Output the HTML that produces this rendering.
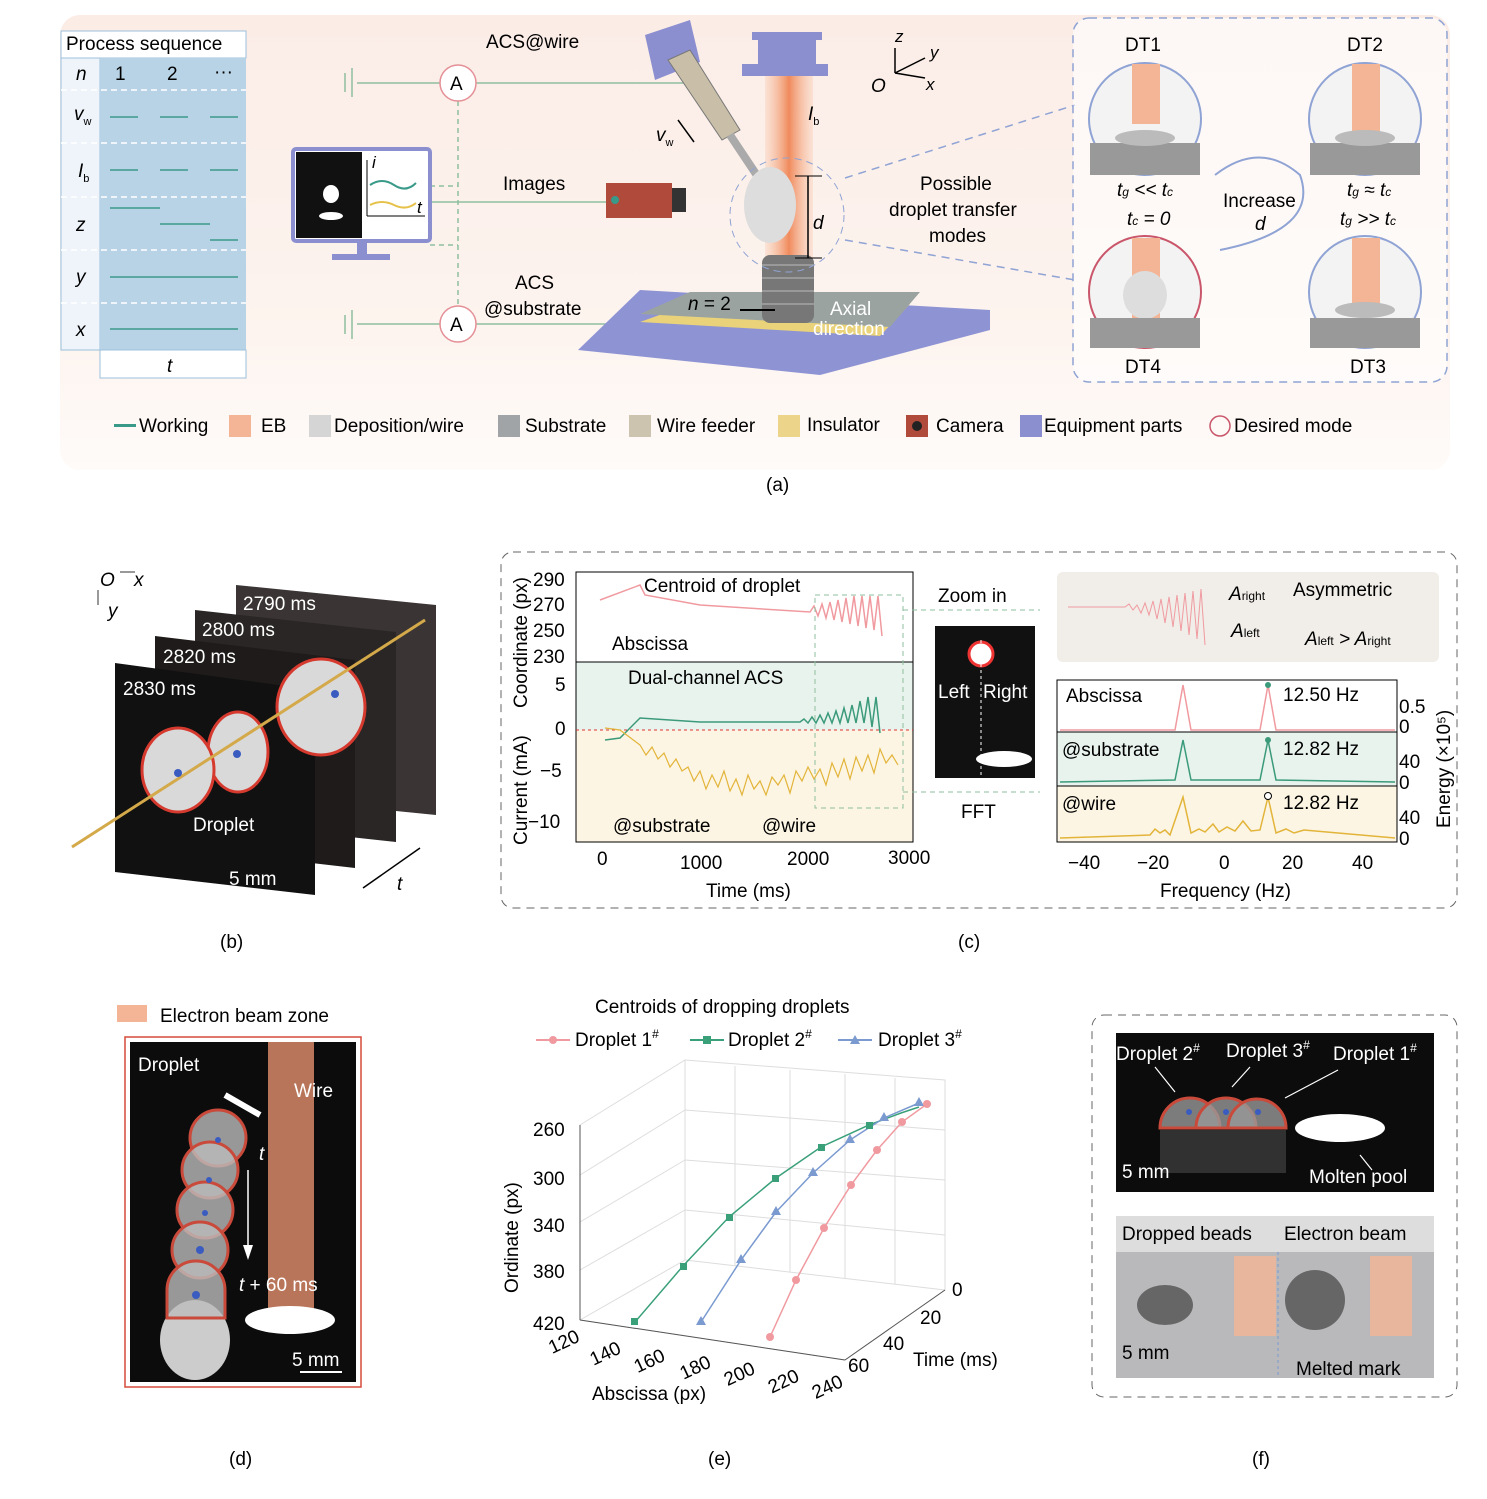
<!DOCTYPE html>
<html><head><meta charset="utf-8"><style>
html,body{margin:0;padding:0;background:#fff}
svg{display:block;font-family:"Liberation Sans",sans-serif}
</style></head><body>
<svg width="1487" height="1499" viewBox="0 0 1487 1499" xmlns="http://www.w3.org/2000/svg">
<defs>
<linearGradient id="bgA" x1="0" y1="0" x2="0" y2="1"><stop offset="0" stop-color="#fbece6"/><stop offset=".7" stop-color="#fdf4ef"/><stop offset="1" stop-color="#fefbf9"/></linearGradient>
<linearGradient id="beam" x1="0" y1="0" x2="1" y2="0"><stop offset="0" stop-color="#f7c4a6" stop-opacity=".3"/><stop offset=".5" stop-color="#f08a5c"/><stop offset="1" stop-color="#f7c4a6" stop-opacity=".3"/></linearGradient>
</defs>
<rect x="60" y="15" width="1390" height="455" rx="20" fill="url(#bgA)"/>
<rect x="61" y="31" width="185" height="27" fill="#fff" stroke="#9cc0dc"/>
<text x="66" y="50" font-size="19">Process sequence</text>
<rect x="61" y="58" width="39" height="292" fill="#eef4fa" stroke="#9cc0dc"/>
<rect x="100" y="58" width="146" height="292" fill="#b9d3e6"/>
<rect x="100" y="350" width="146" height="28" fill="#fff" stroke="#9cc0dc"/>
<g stroke="#fff" stroke-dasharray="6,4" stroke-width="1.5">
<line x1="61" y1="90" x2="246" y2="90"/><line x1="61" y1="143" x2="246" y2="143"/><line x1="61" y1="197" x2="246" y2="197"/><line x1="61" y1="250" x2="246" y2="250"/><line x1="61" y1="303" x2="246" y2="303"/></g>
<g font-size="19" font-style="italic"><text x="76" y="80">n</text><text x="74" y="120">v<tspan font-size="11" font-style="normal" dy="5">w</tspan></text><text x="78" y="177">I<tspan font-size="11" font-style="normal" dy="5">b</tspan></text><text x="76" y="231">z</text><text x="76" y="283">y</text><text x="76" y="336">x</text><text x="167" y="372">t</text></g>
<g font-size="19"><text x="115" y="80">1</text><text x="167" y="80">2</text><text x="214" y="78">···</text></g>
<g stroke="#3a9a8a" stroke-width="1.5">
<line x1="110" y1="117" x2="138" y2="117"/><line x1="160" y1="117" x2="188" y2="117"/><line x1="210" y1="117" x2="238" y2="117"/>
<line x1="110" y1="170" x2="138" y2="170"/><line x1="160" y1="170" x2="188" y2="170"/><line x1="210" y1="170" x2="238" y2="170"/>
<line x1="110" y1="208" x2="160" y2="208"/><line x1="160" y1="224" x2="210" y2="224"/><line x1="210" y1="240" x2="238" y2="240"/>
<line x1="110" y1="277" x2="238" y2="277"/><line x1="110" y1="329" x2="238" y2="329"/></g>
<g stroke="#8fbf9f" stroke-width="1.5" fill="none">
<line x1="345" y1="73" x2="345" y2="92"/><line x1="352" y1="68" x2="352" y2="97"/><line x1="357" y1="83" x2="440" y2="83"/><line x1="476" y1="83" x2="700" y2="83"/>
<line x1="345" y1="315" x2="345" y2="334"/><line x1="352" y1="310" x2="352" y2="339"/><line x1="357" y1="324" x2="440" y2="324"/><line x1="476" y1="324" x2="680" y2="324"/>
<line x1="458" y1="101" x2="458" y2="306" stroke-dasharray="5,4"/><line x1="430" y1="186" x2="458" y2="186" stroke-dasharray="5,4"/><line x1="430" y1="245" x2="458" y2="245" stroke-dasharray="5,4"/>
<line x1="430" y1="202" x2="615" y2="202"/></g>
<circle cx="458" cy="83" r="18" fill="#fff" stroke="#e58f96" stroke-width="1.5"/><text x="450" y="90" font-size="19">A</text>
<circle cx="458" cy="324" r="18" fill="#fff" stroke="#e58f96" stroke-width="1.5"/><text x="450" y="331" font-size="19">A</text>
<text x="486" y="48" font-size="19">ACS@wire</text>
<text x="503" y="190" font-size="19">Images</text>
<text x="515" y="289" font-size="19">ACS</text><text x="484" y="315" font-size="19">@substrate</text>
<rect x="293" y="149" width="137" height="92" rx="3" fill="#fff" stroke="#8b8fd0" stroke-width="4"/>
<rect x="296" y="152" width="66" height="86" fill="#111"/>
<ellipse cx="331" cy="194" rx="8" ry="9" fill="#fff"/><ellipse cx="331" cy="216" rx="12" ry="4" fill="#fff"/>
<rect x="357" y="241" width="10" height="14" fill="#8b8fd0"/><rect x="332" y="254" width="58" height="6" fill="#8b8fd0"/>
<path d="M370 185 q12 -8 24 0 t22 -2" stroke="#3a9a8a" stroke-width="2" fill="none"/>
<path d="M370 205 q12 -6 24 0 t22 -2" stroke="#e6c24a" stroke-width="2" fill="none"/>
<line x1="367" y1="160" x2="367" y2="216" stroke="#000"/><line x1="367" y1="216" x2="425" y2="216" stroke="#000"/>
<text x="372" y="168" font-size="17" font-style="italic">i</text><text x="417" y="213" font-size="17" font-style="italic">t</text>
<rect x="606" y="183" width="66" height="35" fill="#b04a3a"/><rect x="672" y="188" width="14" height="24" fill="#333"/><circle cx="615" cy="200" r="4" fill="#3a9a8a"/>
<polygon points="578,350 640,290 990,310 990,330 820,375" fill="#8e93d4"/>
<polygon points="640,322 690,304 910,304 880,336" fill="#e9d27a"/>
<polygon points="640,314 690,292 920,292 890,327" fill="#9aa3a0"/>
<rect x="765" y="70" width="48" height="215" fill="url(#beam)"/>
<rect x="752" y="32" width="70" height="8" fill="#8b8fd0"/><rect x="758" y="40" width="58" height="24" fill="#8b8fd0"/><rect x="742" y="64" width="86" height="12" fill="#8b8fd0"/>
<rect x="762" y="255" width="52" height="68" rx="8" fill="#777"/>
<g stroke="#bbb"><line x1="762" y1="265" x2="814" y2="265"/><line x1="762" y1="278" x2="814" y2="278"/><line x1="762" y1="291" x2="814" y2="291"/><line x1="762" y1="304" x2="814" y2="304"/></g>
<polygon points="645,35 690,20 700,62 655,80" fill="#8b8fd0"/>
<polygon points="668,60 690,50 740,130 722,140" fill="#c9bfa8" stroke="#777"/>
<line x1="730" y1="135" x2="760" y2="180" stroke="#aaa" stroke-width="8"/>
<ellipse cx="770" cy="205" rx="26" ry="38" fill="#ddd"/>
<circle cx="787" cy="215" r="57" fill="none" stroke="#8fa3d4" stroke-dasharray="7,5"/>
<line x1="808" y1="176" x2="808" y2="258" stroke="#000" stroke-width="1.5"/>
<line x1="795" y1="176" x2="822" y2="176" stroke="#000"/><line x1="795" y1="258" x2="822" y2="258" stroke="#000"/>
<text x="813" y="229" font-size="19" font-style="italic">d</text>
<text x="808" y="120" font-size="19" font-style="italic">I<tspan font-size="11" font-style="normal" dy="5">b</tspan></text>
<text x="656" y="141" font-size="19" font-style="italic">v<tspan font-size="11" font-style="normal" dy="5">w</tspan></text>
<line x1="678" y1="120" x2="694" y2="142" stroke="#000" stroke-width="1.5"/>
<text x="688" y="310" font-size="19"><tspan font-style="italic">n</tspan> = 2</text>
<line x1="740" y1="310" x2="775" y2="310" stroke="#000" stroke-width="2"/>
<text x="830" y="315" font-size="19" fill="#fff">Axial</text><text x="813" y="335" font-size="19" fill="#fff">direction</text>
<text x="871" y="92" font-size="19" font-style="italic">O</text><text x="895" y="42" font-size="17" font-style="italic">z</text><text x="930" y="58" font-size="17" font-style="italic">y</text><text x="926" y="90" font-size="17" font-style="italic">x</text>
<g stroke="#000" stroke-width="1.5"><line x1="895" y1="73" x2="895" y2="48"/><line x1="895" y1="73" x2="925" y2="58"/><line x1="895" y1="73" x2="925" y2="78"/></g>
<text x="920" y="190" font-size="19">Possible</text><text x="889" y="216" font-size="19">droplet transfer</text><text x="929" y="242" font-size="19">modes</text>
<g stroke="#8fa3d4" stroke-dasharray="8,6" stroke-width="1.5"><line x1="845" y1="178" x2="1075" y2="105"/><line x1="845" y1="240" x2="1075" y2="280"/></g>
<rect x="1073" y="18" width="374" height="364" rx="16" fill="#fff" fill-opacity=".6" stroke="#8fa3d4" stroke-dasharray="8,6" stroke-width="1.5"/>
<g font-size="19"><text x="1125" y="51">DT1</text><text x="1347" y="51">DT2</text><text x="1125" y="373">DT4</text><text x="1350" y="373">DT3</text>
<text x="1223" y="207">Increase</text><text x="1255" y="230" font-style="italic">d</text>
<text x="1117" y="196" font-style="italic">t<tspan font-size="12">g</tspan> &lt;&lt; t<tspan font-size="12">c</tspan></text>
<text x="1127" y="225" font-style="italic">t<tspan font-size="12">c</tspan> = 0</text>
<text x="1347" y="196" font-style="italic">t<tspan font-size="12">g</tspan> ≈ t<tspan font-size="12">c</tspan></text>
<text x="1340" y="225" font-style="italic">t<tspan font-size="12">g</tspan> &gt;&gt; t<tspan font-size="12">c</tspan></text></g>
<path d="M1215 175 Q1260 140 1300 175 Q1320 230 1220 250" fill="none" stroke="#8fa3d4" stroke-width="2"/>
<circle cx="1145" cy="119" r="56" fill="#f3f3f3" stroke="#8fa3d4" stroke-width="2"/><rect x="1132" y="64" width="28" height="60" fill="#f3b596"/><rect x="1090" y="143" width="110" height="32" fill="#999"/><ellipse cx="1145" cy="138" rx="30" ry="8" fill="#bbb"/>
<circle cx="1365" cy="119" r="56" fill="#f3f3f3" stroke="#8fa3d4" stroke-width="2"/><rect x="1352" y="64" width="28" height="70" fill="#f3b596"/><rect x="1310" y="143" width="110" height="32" fill="#999"/><ellipse cx="1365" cy="138" rx="30" ry="8" fill="#bbb"/>
<circle cx="1145" cy="292" r="56" fill="#f3f3f3" stroke="#c9566a" stroke-width="2"/><rect x="1132" y="238" width="28" height="80" fill="#f3b596"/><ellipse cx="1145" cy="295" rx="22" ry="24" fill="#ddd"/><rect x="1090" y="318" width="110" height="30" fill="#999"/>
<circle cx="1365" cy="292" r="56" fill="#f3f3f3" stroke="#8fa3d4" stroke-width="2"/><rect x="1352" y="238" width="28" height="70" fill="#f3b596"/><rect x="1310" y="318" width="110" height="30" fill="#999"/><ellipse cx="1365" cy="310" rx="30" ry="8" fill="#bbb"/>
<g font-size="19">
<rect x="114" y="424" width="22" height="3" fill="#3a9a8a"/><text x="139" y="432">Working</text>
<rect x="229" y="415" width="22" height="22" fill="#f3b596"/><text x="261" y="432">EB</text>
<rect x="309" y="415" width="22" height="22" fill="#d5d5d5"/><text x="334" y="432">Deposition/wire</text>
<rect x="498" y="415" width="22" height="22" fill="#a0a4a6"/><text x="525" y="432">Substrate</text>
<rect x="629" y="415" width="22" height="22" fill="#ccc4ae"/><text x="657" y="432">Wire feeder</text>
<rect x="778" y="415" width="22" height="22" fill="#ecd58a"/><text x="807" y="431">Insulator</text>
<rect x="906" y="415" width="22" height="22" fill="#b04a3a"/><circle cx="917" cy="426" r="5" fill="#222"/><text x="936" y="432">Camera</text>
<rect x="1020" y="415" width="22" height="22" fill="#8b8fd0"/><text x="1044" y="432">Equipment parts</text>
<circle cx="1220" cy="426" r="10" fill="none" stroke="#c9566a" stroke-width="1.5"/><text x="1234" y="432">Desired mode</text>
</g>
<text x="766" y="491" font-size="19">(a)</text>
<!-- b -->
<text x="100" y="586" font-size="19" font-style="italic">O</text><text x="134" y="586" font-size="19" font-style="italic">x</text><text x="108" y="617" font-size="19" font-style="italic">y</text>
<g stroke="#777" stroke-width="1.5"><line x1="98" y1="590" x2="98" y2="605"/><line x1="120" y1="572" x2="135" y2="572"/></g>
<polygon points="236,585 436,605 436,815 236,795" fill="#3a3534"/>
<polygon points="195,610 396,632 396,842 195,820" fill="#2a2625"/>
<polygon points="155,636 355,660 355,868 155,845" fill="#1e1b1a"/>
<polygon points="115,663 315,690 315,895 115,872" fill="#111"/>
<g font-size="19" fill="#fff"><text x="243" y="610">2790 ms</text><text x="202" y="636">2800 ms</text><text x="163" y="663">2820 ms</text><text x="123" y="695">2830 ms</text><text x="193" y="831">Droplet</text><text x="229" y="885">5 mm</text></g>
<g fill="#d9d9d9" stroke="#d63a2e" stroke-width="3">
<ellipse cx="321" cy="707" rx="44" ry="48"/><ellipse cx="238" cy="752" rx="30" ry="40"/><ellipse cx="178" cy="770" rx="36" ry="42"/></g>
<line x1="72" y1="847" x2="425" y2="620" stroke="#d4a94a" stroke-width="3"/>
<g fill="#3a5cc0"><circle cx="335" cy="694" r="4"/><circle cx="237" cy="754" r="4"/><circle cx="178" cy="773" r="4"/></g>
<line x1="420" y1="848" x2="363" y2="888" stroke="#000" stroke-width="1.5"/><text x="397" y="890" font-size="19" font-style="italic">t</text>
<text x="220" y="948" font-size="19">(b)</text>
<!-- c -->
<rect x="501" y="552" width="956" height="356" rx="12" fill="none" stroke="#666" stroke-dasharray="8,6"/>
<rect x="576" y="572" width="337" height="90" fill="#fff" stroke="#000"/>
<rect x="576" y="662" width="337" height="68" fill="#e8f3ee"/><rect x="576" y="730" width="337" height="112" fill="#fdf5e3"/>
<rect x="576" y="662" width="337" height="180" fill="none" stroke="#000"/>
<line x1="576" y1="730" x2="913" y2="730" stroke="#d33" stroke-dasharray="3,3"/>
<path d="M600 600 L640 585 L645 595 L700 605 L810 612 l4 -6 l4 10 l4 -12 l4 14 l4 -16 l4 18 l4 -20 l4 22 l4 -24 l4 26 l4 -28 l4 30 l4 -30 l4 32 l4 -32 l4 34 l4 -34 l4 40" stroke="#f09aa0" fill="none" stroke-width="1.5"/>
<path d="M605 740 L620 738 L640 718 L700 722 L800 722 l4 -3 l4 4 l4 -6 l4 6 l4 -8 l4 8 l4 -10 l4 10 l4 -12 l4 12 l4 -15 l4 15 l4 -18 l4 18 l4 -22 l4 22 l4 -26 l4 30 l4 -30 l4 36" stroke="#3a9a7a" fill="none" stroke-width="1.5"/>
<path d="M605 728 L620 730 L640 745 l6 10 l6 -8 l6 12 l6 -6 l6 14 l6 -8 l6 12 l6 -4 l6 14 l6 -10 l6 18 l6 -14 l6 12 l6 -16 l6 20 l6 -12 l6 16 l6 -20 l6 14 l6 -8 l6 14 l6 -18 l6 8 l6 -10 l6 18 l6 -22 l6 10 l6 -14 l6 12 l6 -10 l6 16 l6 -22 l6 14 l6 -18 l6 20 l6 -22 l6 14 l6 -16 l6 18 l6 -24 l6 14 l6 -8 l6 10" stroke="#e2b43a" fill="none" stroke-width="1.2"/>
<rect x="815" y="595" width="88" height="213" fill="none" stroke="#8fbf9f" stroke-dasharray="5,4"/>
<g stroke="#8fbf9f" stroke-dasharray="5,4" fill="none"><path d="M903 610 L1040 610"/><path d="M903 792 L1040 792"/></g>
<g font-size="19"><text x="533" y="586">290</text><text x="533" y="611">270</text><text x="533" y="637">250</text><text x="533" y="663">230</text>
<text x="555" y="691">5</text><text x="555" y="735">0</text><text x="540" y="777">−5</text><text x="528" y="828">−10</text>
<text x="597" y="865">0</text><text x="680" y="869">1000</text><text x="787" y="865">2000</text><text x="888" y="864">3000</text>
<text x="706" y="897">Time (ms)</text>
<text x="644" y="592">Centroid of droplet</text><text x="612" y="650">Abscissa</text><text x="628" y="684">Dual-channel ACS</text>
<text x="613" y="832">@substrate</text><text x="762" y="832">@wire</text>
<text x="938" y="602">Zoom in</text><text x="961" y="818">FFT</text>
<text x="527" y="845" transform="rotate(-90 527 845)">Current (mA)</text><text x="527" y="708" transform="rotate(-90 527 708)">Coordinate (px)</text>
</g>
<rect x="935" y="626" width="100" height="152" fill="#111"/>
<circle cx="981" cy="654" r="12" fill="#fff" stroke="#e33" stroke-width="3"/><ellipse cx="1004" cy="759" rx="28" ry="8" fill="#fff"/>
<line x1="981" y1="640" x2="981" y2="775" stroke="#fff" stroke-dasharray="3,3"/>
<text x="938" y="698" font-size="19" fill="#fff">Left</text><text x="983" y="698" font-size="19" fill="#fff">Right</text>
<rect x="1057" y="572" width="382" height="90" rx="6" fill="#f1ede8"/>
<path d="M1068 607 L1125 607 l4 -3 l4 6 l4 -5 l4 8 l4 -10 l4 12 l4 -14 l4 18 l4 -20 l4 24 l4 -26 l4 30 l4 -32 l4 36 l4 -38 l4 42 l4 -44 l4 48 l4 -50 l4 56" stroke="#f09aa0" fill="none"/>
<g font-size="19"><text x="1229" y="600" font-style="italic">A<tspan font-size="12" font-style="normal">right</tspan></text><text x="1231" y="637" font-style="italic">A<tspan font-size="12" font-style="normal">left</tspan></text>
<text x="1293" y="596">Asymmetric</text><text x="1305" y="645" font-style="italic">A<tspan font-size="12" font-style="normal">left</tspan> &gt; A<tspan font-size="12" font-style="normal">right</tspan></text></g>
<rect x="1057" y="680" width="340" height="52" fill="#fff" stroke="#000"/>
<rect x="1057" y="732" width="340" height="54" fill="#e8f3ee" stroke="#000"/>
<rect x="1057" y="786" width="340" height="56" fill="#fdf5e3" stroke="#000"/>
<g fill="none" stroke-width="1.5"><path d="M1060 730 L1175 730 L1183 685 L1191 730 L1260 730 L1268 685 L1276 730 L1395 730" stroke="#f09aa0"/>
<path d="M1060 782 L1175 780 L1183 740 L1191 780 L1260 780 L1268 740 L1276 780 L1395 782" stroke="#3a9a7a"/>
<path d="M1060 838 L1150 835 l5 -6 l5 4 l5 -3 l5 5 L1183 797 L1191 833 l8 -4 l6 3 l8 -8 l6 8 l8 -5 l8 4 l8 -10 l8 10 L1260 830 L1268 797 L1276 833 l10 -4 l8 4 l10 -3 L1395 838" stroke="#e2b43a"/></g>
<circle cx="1268" cy="685" r="3" fill="#3a9a7a"/><circle cx="1268" cy="740" r="3" fill="#3a9a7a"/><circle cx="1268" cy="796" r="3.5" fill="#fff" stroke="#000"/>
<g font-size="19"><text x="1066" y="702">Abscissa</text><text x="1283" y="701">12.50 Hz</text><text x="1062" y="756">@substrate</text><text x="1283" y="755">12.82 Hz</text>
<text x="1062" y="810">@wire</text><text x="1283" y="809">12.82 Hz</text>
<text x="1399" y="713">0.5</text><text x="1399" y="733">0</text><text x="1399" y="768">40</text><text x="1399" y="789">0</text><text x="1399" y="824">40</text><text x="1399" y="845">0</text>
<text x="1068" y="869">−40</text><text x="1137" y="869">−20</text><text x="1219" y="869">0</text><text x="1282" y="869">20</text><text x="1352" y="869">40</text>
<text x="1160" y="897">Frequency (Hz)</text>
<text x="1450" y="828" transform="rotate(-90 1450 828)">Energy (×10⁵)</text></g>
<text x="958" y="948" font-size="19">(c)</text>
<!-- d -->
<rect x="117" y="1005" width="30" height="17" fill="#f3b596"/><text x="160" y="1022" font-size="19">Electron beam zone</text>
<rect x="125" y="1037" width="236" height="350" fill="#fff" stroke="#d64a3a" stroke-width="1.5"/>
<rect x="130" y="1042" width="226" height="340" fill="#0c0c0c"/>
<rect x="268" y="1042" width="46" height="280" fill="#b8755a"/>
<ellipse cx="290" cy="1320" rx="45" ry="14" fill="#fff"/>
<ellipse cx="195" cy="1340" rx="35" ry="40" fill="#ccc"/>
<g fill="#bbb" fill-opacity=".8" stroke="#c94a3a" stroke-width="3">
<circle cx="218" cy="1138" r="28"/><circle cx="210" cy="1170" r="28"/><circle cx="205" cy="1210" r="28"/><circle cx="200" cy="1250" r="28"/><path d="M167 1318 L167 1290 A29 29 0 0 1 225 1290 L225 1318 Z"/></g>
<g fill="#3a5cc0"><circle cx="218" cy="1140" r="3"/><circle cx="209" cy="1180" r="3"/><circle cx="205" cy="1213" r="3"/><circle cx="200" cy="1250" r="4"/><circle cx="196" cy="1295" r="4"/></g>
<line x1="225" y1="1095" x2="260" y2="1115" stroke="#fff" stroke-width="6"/>
<g font-size="19" fill="#fff"><text x="138" y="1071">Droplet</text><text x="294" y="1097">Wire</text><text x="259" y="1160" font-style="italic">t</text><text x="239" y="1291"><tspan font-style="italic">t</tspan> + 60 ms</text><text x="292" y="1366">5 mm</text></g>
<line x1="248" y1="1170" x2="248" y2="1255" stroke="#fff" stroke-width="1.5"/><polygon points="243,1245 253,1245 248,1260" fill="#fff"/>
<line x1="300" y1="1372" x2="342" y2="1372" stroke="#fff" stroke-width="2"/>
<text x="229" y="1465" font-size="19">(d)</text>
<!-- e -->
<text x="595" y="1013" font-size="19">Centroids of dropping droplets</text>
<g font-size="19"><line x1="536" y1="1040" x2="570" y2="1040" stroke="#f09aa0" stroke-width="2"/><circle cx="553" cy="1040" r="4" fill="#f09aa0"/><text x="575" y="1046">Droplet 1<tspan font-size="12" dy="-8">#</tspan></text>
<line x1="690" y1="1040" x2="724" y2="1040" stroke="#3aa07a" stroke-width="2"/><rect x="703" y="1036" width="8" height="8" fill="#3aa07a"/><text x="728" y="1046">Droplet 2<tspan font-size="12" dy="-8">#</tspan></text>
<line x1="838" y1="1040" x2="872" y2="1040" stroke="#7a9ad0" stroke-width="2"/><polygon points="855,1035 860,1044 850,1044" fill="#7a9ad0"/><text x="878" y="1046">Droplet 3<tspan font-size="12" dy="-8">#</tspan></text></g>
<g stroke="#ddd" fill="none">
<polygon points="580,1125 685,1060 945,1080 945,1290 845,1360 580,1320"/>
<line x1="685" y1="1060" x2="685" y2="1260"/><line x1="580" y1="1320" x2="685" y2="1260"/><line x1="685" y1="1260" x2="945" y2="1290"/>
<line x1="580" y1="1175" x2="685" y2="1110"/><line x1="580" y1="1222" x2="685" y2="1160"/><line x1="580" y1="1270" x2="685" y2="1210"/>
<line x1="685" y1="1110" x2="945" y2="1130"/><line x1="685" y1="1160" x2="945" y2="1180"/><line x1="685" y1="1210" x2="945" y2="1235"/>
<line x1="735" y1="1066" x2="735" y2="1266"/><line x1="790" y1="1070" x2="790" y2="1272"/><line x1="845" y1="1074" x2="845" y2="1278"/><line x1="895" y1="1078" x2="895" y2="1284"/>
</g>
<g stroke="#555"><line x1="580" y1="1320" x2="845" y2="1360"/><line x1="845" y1="1360" x2="945" y2="1290"/><line x1="580" y1="1125" x2="580" y2="1320"/></g>
<polyline points="635,1322 683,1266 729,1217 776,1178 821,1147 869,1125 901,1113 919,1107" fill="none" stroke="#3aa07a" stroke-width="1.5"/>
<polyline points="701,1322 741,1260 776,1212 813,1173 850,1140 884,1118 919,1103" fill="none" stroke="#7a9ad0" stroke-width="1.5"/>
<polyline points="770,1337 796,1280 824,1228 851,1185 877,1150 902,1122 927,1104" fill="none" stroke="#f09aa0" stroke-width="1.5"/>
<g fill="#3aa07a"><rect x="631" y="1318" width="7" height="7"/><rect x="680" y="1263" width="7" height="7"/><rect x="726" y="1214" width="7" height="7"/><rect x="772" y="1175" width="7" height="7"/><rect x="818" y="1144" width="7" height="7"/><rect x="866" y="1122" width="7" height="7"/></g>
<g fill="#7a9ad0"><polygon points="701,1316 706,1325 696,1325"/><polygon points="741,1254 746,1263 736,1263"/><polygon points="776,1206 781,1215 771,1215"/><polygon points="813,1167 818,1176 808,1176"/><polygon points="850,1134 855,1143 845,1143"/><polygon points="884,1112 889,1121 879,1121"/><polygon points="919,1097 924,1106 914,1106"/></g>
<g fill="#f09aa0"><circle cx="770" cy="1337" r="4"/><circle cx="796" cy="1280" r="4"/><circle cx="824" cy="1228" r="4"/><circle cx="851" cy="1185" r="4"/><circle cx="877" cy="1150" r="4"/><circle cx="902" cy="1122" r="4"/><circle cx="927" cy="1104" r="4"/></g>
<g font-size="19"><text x="533" y="1136">260</text><text x="533" y="1185">300</text><text x="533" y="1232">340</text><text x="533" y="1278">380</text><text x="533" y="1330">420</text>
<text x="549" y="1350" transform="rotate(-25 560 1345)">120</text><text x="590" y="1360" transform="rotate(-25 605 1355)">140</text><text x="634" y="1367" transform="rotate(-25 650 1362)">160</text><text x="680" y="1374" transform="rotate(-25 695 1369)">180</text><text x="724" y="1380" transform="rotate(-25 740 1375)">200</text><text x="768" y="1387" transform="rotate(-25 785 1382)">220</text><text x="812" y="1393" transform="rotate(-25 828 1388)">240</text>
<text x="952" y="1296">0</text><text x="920" y="1324">20</text><text x="883" y="1350">40</text><text x="848" y="1372">60</text>
<text x="913" y="1366">Time (ms)</text><text x="592" y="1400">Abscissa (px)</text>
<text x="518" y="1293" transform="rotate(-90 518 1293)">Ordinate (px)</text></g>
<text x="708" y="1465" font-size="19">(e)</text>
<!-- f -->
<rect x="1092" y="1015" width="365" height="382" rx="12" fill="none" stroke="#666" stroke-dasharray="8,6"/>
<rect x="1116" y="1033" width="318" height="159" fill="#0c0c0c"/>
<ellipse cx="1340" cy="1128" rx="45" ry="14" fill="#fff"/>
<g fill="#999" fill-opacity=".8" stroke="#c94a3a" stroke-width="3"><path d="M1160 1128 A30 30 0 0 1 1220 1128 Z"/><path d="M1196 1128 A30 30 0 0 1 1256 1128 Z"/><path d="M1228 1128 A28 28 0 0 1 1286 1128 Z"/></g>
<rect x="1160" y="1130" width="126" height="43" fill="#555" fill-opacity=".5"/>
<g fill="#3a5cc0"><circle cx="1189" cy="1112" r="3"/><circle cx="1226" cy="1112" r="3"/><circle cx="1258" cy="1112" r="3"/></g>
<g stroke="#fff" stroke-width="1.2"><line x1="1155" y1="1067" x2="1175" y2="1092"/><line x1="1250" y1="1067" x2="1232" y2="1087"/><line x1="1338" y1="1070" x2="1285" y2="1098"/><line x1="1360" y1="1155" x2="1372" y2="1170"/></g>
<g font-size="19" fill="#fff"><text x="1116" y="1060">Droplet 2<tspan font-size="12" dy="-8">#</tspan></text><text x="1226" y="1057">Droplet 3<tspan font-size="12" dy="-8">#</tspan></text><text x="1333" y="1060">Droplet 1<tspan font-size="12" dy="-8">#</tspan></text>
<text x="1122" y="1178">5 mm</text><text x="1309" y="1183">Molten pool</text></g>
<rect x="1116" y="1216" width="318" height="162" fill="#b9b9bb"/>
<rect x="1116" y="1216" width="318" height="36" fill="#ddd"/>
<g fill="#f3b596" fill-opacity=".8"><rect x="1234" y="1256" width="42" height="80"/><rect x="1370" y="1256" width="42" height="80"/></g>
<g fill="#666"><ellipse cx="1165" cy="1305" rx="28" ry="20"/><ellipse cx="1315" cy="1300" rx="30" ry="30"/></g>
<line x1="1278" y1="1252" x2="1278" y2="1378" stroke="#7a9ad0" stroke-dasharray="3,3"/>
<g font-size="19"><text x="1122" y="1240">Dropped beads</text><text x="1284" y="1240">Electron beam</text><text x="1122" y="1359">5 mm</text><text x="1296" y="1375">Melted mark</text></g>
<text x="1252" y="1465" font-size="19">(f)</text>
</svg>
</body></html>
